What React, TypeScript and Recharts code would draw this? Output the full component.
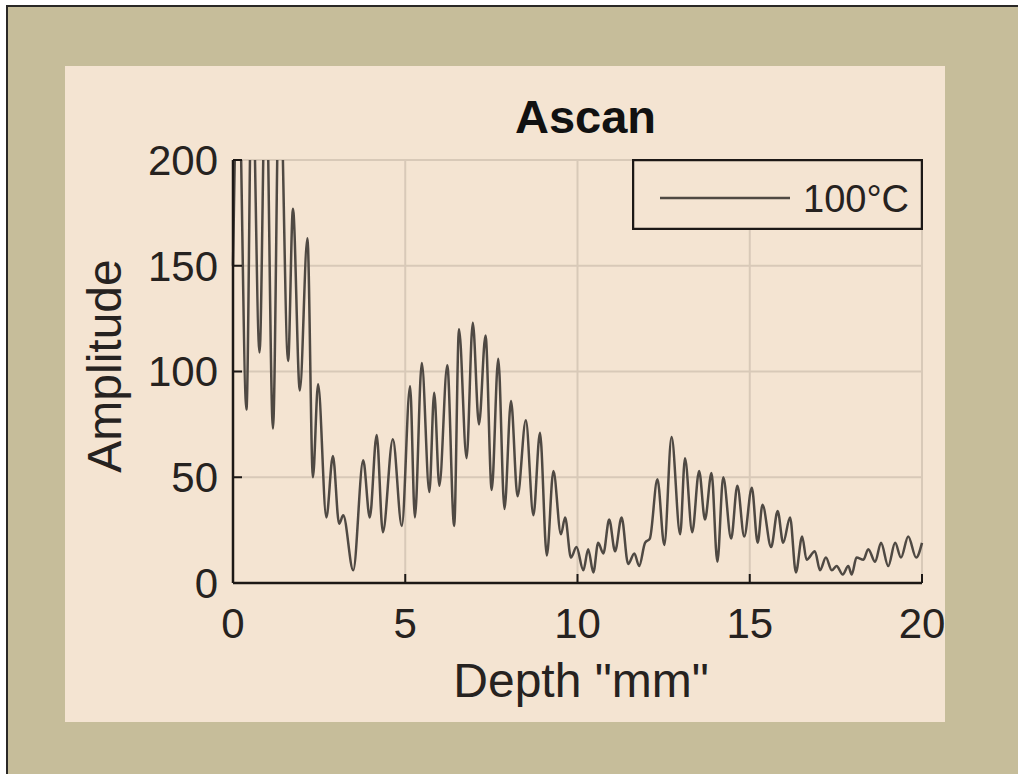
import React from 'react';
import { LineChart, Line, XAxis, YAxis, CartesianGrid, Legend } from 'recharts';

// peaks / troughs
const depthMm = [
  0, 0.15, 0.39, 0.55, 0.77, 0.95, 1.16, 1.35, 1.6, 1.74, 1.94, 2.16,
  2.32, 2.47, 2.71, 2.9, 3.08, 3.2, 3.49, 3.78, 3.97, 4.17, 4.35, 4.64,
  4.9, 5.14, 5.28, 5.48, 5.7, 5.84, 5.99, 6.22, 6.42, 6.56, 6.78, 6.96,
  7.14, 7.33, 7.51, 7.7, 7.88, 8.07, 8.26, 8.5, 8.72, 8.91, 9.11, 9.3,
  9.52, 9.64, 9.81, 9.97, 10.17, 10.31, 10.46, 10.6, 10.75, 10.92, 11.09, 11.28,
  11.47, 11.65, 11.79, 11.96, 12.1, 12.32, 12.52, 12.73, 12.98, 13.12, 13.33, 13.53,
  13.7, 13.89, 14.06, 14.23, 14.46, 14.64, 14.84, 15.06, 15.23, 15.37, 15.62, 15.81,
  15.97, 16.17, 16.34, 16.52, 16.65, 16.89, 17.04, 17.21, 17.38, 17.52, 17.7, 17.86,
  17.96, 18.1, 18.3, 18.44, 18.64, 18.81, 19.02, 19.22, 19.39, 19.6, 19.83, 20,
];

const amplitude = [
  150, 250, 82, 250, 109, 250, 73, 250, 105, 177, 91, 163,
  50, 94, 31, 60, 28, 32, 6, 58, 31, 70, 24, 68,
  27, 93, 31, 104, 43, 90, 46, 103, 27, 120, 59, 123,
  75, 117, 44, 106, 35, 86, 41, 77, 32, 71, 13, 53,
  23, 31, 12, 17, 6, 16, 5, 19, 14, 30, 15, 31,
  9, 14, 8, 19, 21, 49, 18, 69, 23, 59, 24, 53,
  30, 52, 10, 50, 21, 46, 22, 45, 19, 37, 17, 34,
  19, 31, 5, 22, 11, 15, 6, 12, 6, 8, 4, 8,
  4, 12, 11, 16, 10, 19, 8, 19, 12, 22, 12, 19,
];

const xTicks = [0, 5, 10, 15, 20];
const yTicks = [0, 50, 100, 150, 200];
const seriesName = '100°C';

const data = depthMm.map((d, i) => ({ depth: d, amp: amplitude[i] }));

const FONT = '"Liberation Sans", Arial, sans-serif';
const INK = '#1c1816';
const PANEL = '#f4e4d2';
const TRACE = '#4f4943';

const CHART_W = 880;
const CHART_H = 656;
const MARGIN = { top: 94, right: 23, bottom: 79, left: 88 };
const PLOT_W = CHART_W - MARGIN.right - 168;

const tickStyle = { fontSize: 42, fill: '#262220', fontFamily: FONT };
const tickLine = { stroke: INK, strokeWidth: 2 };
const axisLine = { stroke: INK, strokeWidth: 2.5 };

const XLabel = (props: any) => {
  const vb = props.viewBox;
  return (
    <text x={vb.x + vb.width / 2 + 3.5} y={vb.y + 114} textAnchor="middle"
      fontFamily={FONT} fontSize={48} fill="#262220">
      Depth "mm"
    </text>
  );
};

// y label plus the chart title (placed from the plot's left edge)
const YLabel = (props: any) => {
  const vb = props.viewBox;
  const x = vb.x + vb.width - 112;
  const y = vb.y + vb.height / 2 - 5.5;
  const plotLeft = vb.x + vb.width;
  return (
    <g>
      <text x={plotLeft + PLOT_W / 2 + 8} y={vb.y - 27} textAnchor="middle"
        fontFamily={FONT} fontSize={47} fontWeight="bold" fill="#111">
        Ascan
      </text>
      <text x={x} y={y} textAnchor="middle" transform={`rotate(-90, ${x}, ${y})`}
        fontFamily={FONT} fontSize={48} fill="#262220">
        Amplitude
      </text>
    </g>
  );
};

const LegendBox = () => (
  <svg width={291} height={71} style={{ display: 'block' }}>
    <rect x={1} y={1} width={289} height={69} fill={PANEL} stroke={INK} strokeWidth={2.5} />
    <line x1={28} y1={39} x2={158} y2={39} stroke={TRACE} strokeWidth={2.5} />
    <text x={171} y={53} fontFamily={FONT} fontSize={38} fill="#262220">{seriesName}</text>
  </svg>
);

export default function App() {
  return (
    <div style={{
      position: 'absolute', left: 6, top: 5, width: 1012, height: 769, boxSizing: 'border-box',
      borderLeft: '2px solid #2a2826', borderTop: '2px solid #2a2826', background: '#c6bd9a',
    }}>
      <div style={{ position: 'absolute', left: 57, top: 59, width: CHART_W, height: CHART_H, background: PANEL }}>
        <LineChart width={CHART_W} height={CHART_H} data={data} margin={MARGIN}>
          <CartesianGrid stroke="#d8c9b8" strokeWidth={2} />
          <XAxis dataKey="depth" type="number" domain={[0, 20]} ticks={xTicks} height={60}
            tick={tickStyle} tickLine={tickLine} axisLine={axisLine}
            tickSize={-9} tickMargin={34} interval={0}
            label={<XLabel />} />
          <XAxis xAxisId="top" orientation="top" dataKey="depth" type="number" domain={[0, 20]}
            ticks={xTicks} height={0} tickSize={-9} tickLine={tickLine} axisLine={axisLine}
            tickFormatter={() => ''} />
          <YAxis type="number" domain={[0, 200]} ticks={yTicks} width={80} allowDataOverflow
            tick={tickStyle} tickLine={tickLine} axisLine={axisLine}
            tickSize={-9} tickMargin={24} interval={0}
            label={<YLabel />} />
          <YAxis yAxisId="right" orientation="right" type="number" domain={[0, 200]} ticks={yTicks}
            width={0} tickSize={-9} tickLine={tickLine} axisLine={axisLine}
            tickFormatter={() => ''} />
          <Legend layout="horizontal" align="center" verticalAlign="middle"
            wrapperStyle={{ top: 93, left: 567, width: 291, height: 71 }}
            content={() => <LegendBox />} />
          <Line type="monotone" dataKey="amp" name={seriesName} stroke={TRACE} strokeWidth={2.5}
            dot={false} activeDot={false} isAnimationActive={false} />
        </LineChart>
      </div>
    </div>
  );
}
